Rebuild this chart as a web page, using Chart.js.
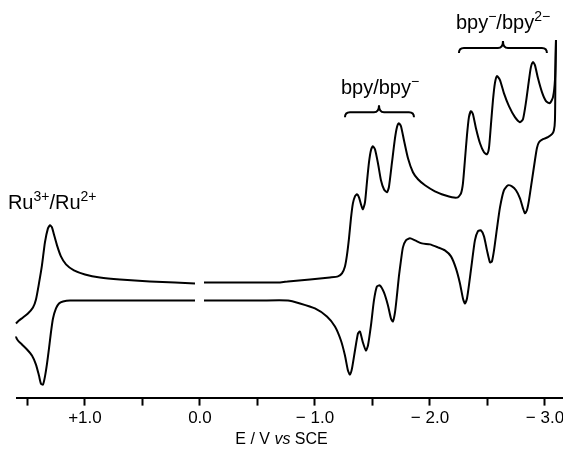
<!DOCTYPE html>
<html>
<head>
<meta charset="utf-8">
<script src="https://cdn.jsdelivr.net/npm/chart.js@4/dist/chart.umd.min.js"></script>
<style>
  html, body { margin: 0; padding: 0; background: #fff; }
  #cv { display: block; }
</style>
</head>
<body>
<canvas id="cv" width="563" height="455"></canvas>
<script>
// potential E / V vs SCE and current (arbitrary units)
// forward sweep (upper trace), left to right; null marks the break near 0 V
const upperE = [1.600, 1.574, 1.539, 1.496, 1.452, 1.426, 1.400, 1.374, 1.348, 1.322,
    1.304, 1.287, 1.270, 1.243, 1.209, 1.165, 1.096, 1.000, 0.870, 0.696,
    0.435, 0.217, 0.043, 0.000, -0.035, -0.348, -0.696, -0.765, -0.957, -1.130,
    -1.200, -1.235, -1.261, -1.278, -1.296, -1.313, -1.330, -1.348, -1.365, -1.383,
    -1.400, -1.417, -1.435, -1.452, -1.470, -1.487, -1.504, -1.522, -1.548, -1.574,
    -1.600, -1.626, -1.643, -1.670, -1.696, -1.713, -1.730, -1.748, -1.774, -1.809,
    -1.852, -1.896, -1.957, -2.043, -2.130, -2.191, -2.243, -2.270, -2.287, -2.304,
    -2.322, -2.339, -2.357, -2.374, -2.400, -2.435, -2.470, -2.496, -2.513, -2.530,
    -2.548, -2.565, -2.583, -2.609, -2.643, -2.687, -2.739, -2.783, -2.809, -2.835,
    -2.861, -2.878, -2.896, -2.913, -2.939, -2.974, -3.009, -3.043, -3.070, -3.087,
    -3.096];
const upperI = [-2.3, -2.0, -1.7, -1.3, -0.7, 0.1, 1.7, 3.5, 5.8, 7.2,
    7.5, 7.3, 6.6, 5.5, 4.4, 3.6, 3.0, 2.6, 2.3, 2.1,
    1.9, 1.8, 1.7, null, 1.8, 1.8, 1.8, 1.9, 2.1, 2.3,
    2.4, 2.7, 3.4, 4.5, 6.2, 8.2, 9.7, 10.4, 10.6, 10.3,
    9.6, 9.1, 9.8, 11.8, 13.8, 15.0, 15.4, 15.1, 13.7, 12.0,
    11.1, 10.8, 11.3, 13.8, 16.2, 17.3, 17.7, 17.4, 16.0, 14.2,
    12.8, 12.1, 11.5, 10.9, 10.5, 10.3, 10.3, 10.7, 11.7, 14.0,
    16.5, 18.3, 18.9, 18.6, 17.2, 15.7, 14.8, 14.6, 15.2, 17.5,
    20.0, 21.7, 22.4, 22.0, 20.7, 19.4, 18.3, 17.8, 18.1, 19.8,
    22.0, 23.3, 23.8, 23.5, 22.2, 20.8, 19.9, 19.7, 20.3, 22.0,
    26.0];

// reverse sweep (lower trace), right to left
const lowerE = [-3.096, -3.091, -3.087, -3.078, -3.061, -3.026, -2.983, -2.948, -2.930, -2.913,
    -2.887, -2.861, -2.843, -2.826, -2.809, -2.783, -2.748, -2.713, -2.678, -2.643,
    -2.609, -2.583, -2.557, -2.539, -2.522, -2.496, -2.470, -2.443, -2.417, -2.391,
    -2.365, -2.339, -2.322, -2.304, -2.287, -2.261, -2.226, -2.183, -2.130, -2.070,
    -2.000, -1.930, -1.870, -1.826, -1.791, -1.765, -1.748, -1.730, -1.713, -1.696,
    -1.678, -1.661, -1.635, -1.600, -1.565, -1.539, -1.513, -1.487, -1.461, -1.443,
    -1.417, -1.391, -1.374, -1.348, -1.322, -1.304, -1.287, -1.261, -1.226, -1.174,
    -1.104, -1.000, -0.870, -0.765, -0.522, -0.035, 0.000, 0.043, 0.696, 1.130,
    1.191, 1.226, 1.252, 1.278, 1.296, 1.313, 1.330, 1.348, 1.365, 1.383,
    1.400, 1.426, 1.461, 1.504, 1.548, 1.583, 1.600, 1.600];
const lowerI = [26.0, 22.0, 18.0, 17.0, 16.6, 16.3, 16.1, 15.8, 15.2, 14.0,
    12.0, 10.0, 9.0, 8.7, 9.2, 10.2, 11.0, 11.4, 11.5, 11.0,
    9.3, 7.2, 5.0, 3.9, 3.8, 5.0, 6.4, 7.0, 6.9, 6.0,
    3.8, 1.5, 0.2, -0.3, 0.2, 1.7, 3.2, 4.4, 5.0, 5.3,
    5.6, 5.7, 6.0, 6.2, 6.0, 5.3, 4.0, 2.4, 0.5, -1.2,
    -2.1, -1.8, -0.5, 0.8, 1.5, 1.4, 0.0, -2.5, -4.5, -5.0,
    -4.2, -3.1, -3.3, -5.0, -6.8, -7.4, -7.0, -5.5, -4.0, -2.6,
    -1.6, -0.8, -0.3, 0.0, 0.0, 0.0, null, 0.0, 0.0, 0.0,
    -0.1, -0.3, -0.8, -1.8, -3.2, -4.8, -6.3, -7.6, -8.4, -8.3,
    -7.5, -6.4, -5.5, -4.9, -4.4, -4.0, -3.6, -2.3];

const tickValues = [1.5, 1.0, 0.5, 0.0, -0.5, -1.0, -1.5, -2.0, -2.5, -3.0];

const FONT = '"Liberation Sans", Arial, Helvetica, sans-serif';

function toPoints(xs, ys) {
    return xs.map((x, k) => ({ x: x, y: ys[k] }));
}

function tickLabel(v) {
    if (Math.abs(v - Math.round(v)) > 1e-6) return '';
    if (Math.abs(v) < 1e-6) return '0.0';
    if (v > 0) return '+' + v.toFixed(1);
    return '\u2212 ' + Math.abs(v).toFixed(1);
}

// text made of [string, isSuperscript] pieces
function drawParts(ctx, x, y, parts, size) {
    let cx = x;
    for (const [txt, sup] of parts) {
        const s = sup ? Math.round(size * 0.7) : size;
        ctx.font = s + 'px ' + FONT;
        ctx.fillText(txt, cx, sup ? y - size * 0.4 : y);
        cx += ctx.measureText(txt).width;
    }
}

function drawBrace(ctx, x0, x1, xm, yb) {
    const drop = 5, rise = 7, r = 5;
    const yh = yb - drop;
    ctx.beginPath();
    ctx.moveTo(x0, yb);
    ctx.quadraticCurveTo(x0, yh, x0 + r, yh);
    ctx.lineTo(xm - r, yh);
    ctx.quadraticCurveTo(xm, yh, xm, yh - rise);
    ctx.quadraticCurveTo(xm, yh, xm + r, yh);
    ctx.lineTo(x1 - r, yh);
    ctx.quadraticCurveTo(x1, yh, x1, yb);
    ctx.stroke();
}

const labelPlugin = {
    id: 'labels',
    afterDraw(chart) {
        const ctx = chart.ctx;
        const xs = chart.scales.x, ys = chart.scales.y;
        const px = v => xs.getPixelForValue(v);
        const py = v => ys.getPixelForValue(v);
        ctx.save();
        ctx.fillStyle = '#000';
        ctx.strokeStyle = '#000';
        ctx.lineWidth = 2;
        ctx.textBaseline = 'alphabetic';
        ctx.textAlign = 'left';

        drawParts(ctx, px(1.670), py(9.1), [['Ru', false], ['3+', true], ['/Ru', false], ['2+', true]], 20);
        drawParts(ctx, px(-1.226), py(20.6), [['bpy/bpy', false], ['\u2212', true]], 20);
        drawParts(ctx, px(-2.226), py(27.1), [['bpy', false], ['\u2212', true], ['/bpy', false], ['2\u2212', true]], 20);

        drawBrace(ctx, px(-1.261), px(-1.861), px(-1.557), py(18.3));
        drawBrace(ctx, px(-2.252), px(-3.017), px(-2.635), py(24.7));

        // axis title with italic "vs"
        const parts = [['E / V ', ''], ['vs', 'italic '], [' SCE', '']];
        let w = 0;
        for (const [t, st] of parts) { ctx.font = st + '16px ' + FONT; w += ctx.measureText(t).width; }
        let cx = chart.width / 2 - w / 2;
        for (const [t, st] of parts) {
            ctx.font = st + '16px ' + FONT;
            ctx.fillText(t, cx, 444);
            cx += ctx.measureText(t).width;
        }
        ctx.restore();
    }
};

const lineStyle = {
    showLine: true,
    borderColor: '#000',
    borderWidth: 2,
    pointRadius: 0,
    tension: 0.2,
    spanGaps: false,
    clip: false
};

new Chart(document.getElementById('cv'), {
    type: 'scatter',
    data: {
        datasets: [
            Object.assign({ label: 'upper', data: toPoints(upperE, upperI) }, lineStyle),
            Object.assign({ label: 'lower', data: toPoints(lowerE, lowerI) }, lineStyle)
        ]
    },
    options: {
        responsive: false,
        animation: false,
        devicePixelRatio: 1,
        layout: { padding: { left: 17, right: 0, top: 0, bottom: 23 } },
        plugins: { legend: { display: false }, tooltip: { enabled: false } },
        scales: {
            x: {
                type: 'linear',
                reverse: true,
                min: -3.157,
                max: 1.591,
                afterBuildTicks: s => { s.ticks = tickValues.map(v => ({ value: v })); },
                afterFit: s => { s.paddingLeft = 0; s.paddingRight = 0; },
                border: { display: true, color: '#000', width: 2 },
                grid: { drawOnChartArea: false, drawTicks: true, tickLength: 8, tickWidth: 2, tickColor: '#000' },
                ticks: {
                    color: '#000',
                    font: { size: 17, family: FONT },
                    padding: 3,
                    maxRotation: 0,
                    autoSkip: false,
                    callback: v => tickLabel(v)
                }
            },
            y: { display: false, min: -9.7, max: 30 }
        }
    },
    plugins: [labelPlugin]
});
</script>
</body>
</html>
